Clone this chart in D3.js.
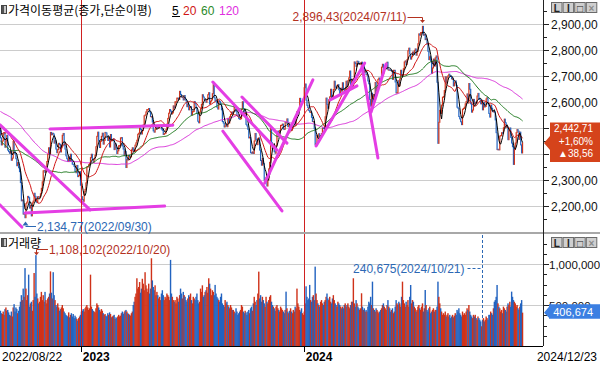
<!DOCTYPE html>
<html><head><meta charset="utf-8">
<script src="https://cdn.jsdelivr.net/npm/d3@7"></script>
<style>
html,body{margin:0;padding:0;background:#fff;}
svg{display:block;}
text{font-family:"Liberation Sans",Arial,sans-serif;}
.kr{font-family:"Noto Sans CJK KR","Noto Sans",sans-serif;}
</style></head><body>
<svg id="c" width="600" height="366"></svg>
<script>
// ---------- DATA ----------
// 119 closes before the first visible day (needed for the 120-day average)
const priorCloses = [
2699,
2703,2747,2713,2651,2622,2680,2661,2645,2621,2657,2694,2707,2686,2729,2736,2730,2729,2690,2729,2741,2757,
2739,2757,2759,2735,2700,2693,2666,2716,2696,2693,2718,2728,2704,2718,2704,2657,2668,2639,2639,2667,2695,
2687,2680,2678,2645,2610,2596,2592,2550,2604,2596,2620,2625,2592,2639,2647,2605,2648,2612,2638,2670,2685,
2670,2626,2670,2626,2625,2595,2504,2492,2447,2440,2391,2408,2342,2314,2366,2401,2422,2377,2350,2332,
2305,2300,2341,2292,2350,2350,2317,2328,2330,2322,2330,2375,2370,2386,2393,2403,2401,2415,2435,2451,2451,
2452,2439,2461,2473,2490,2493,2503,2480,2523,2527,2533,2516,2508,2492
];
// daily closes 2022/08/22 .. 2024/12/23
const closes = [
2462,2435,2450,2477,2481,2426,2450,2472,
2415,2409,2403,2410,2376,2384,2449,2411,2401,2382,2355,2367,2347,2332,2290,2220,2223,2169,2170,2155,
2209,2215,2237,2232,2192,2202,2162,2212,2219,2249,2237,2218,2213,2236,2235,2235,2247,2268,2293,
2335,2337,2329,2348,2371,2399,2424,2402,2483,2474,2480,2477,2442,2451,2419,2405,2417,2441,2437,2408,2433,2472,
2479,2434,2419,2393,2382,2371,2389,2373,2399,2373,2361,2360,2352,2333,2328,2356,2313,2317,2332,2280,2236,
2225,2218,2255,2264,2289,2350,2351,2359,2365,2386,2399,2379,2368,2380,2395,2428,2468,2484,2450,2425,
2449,2468,2480,2438,2452,2483,2481,2469,2452,2465,2427,2475,2451,2455,2458,2417,2439,2423,2402,2412,
2432,2432,2462,2463,2431,2419,2394,2410,2348,2379,2377,2395,2388,2389,2416,2424,2414,2409,2434,2443,2453,2476,
2480,2500,2495,2477,2490,2512,2547,2550,2562,2571,2571,2575,2562,2544,2544,2523,2489,2484,2495,2501,
2507,2500,2501,2509,2510,2496,2491,2475,2479,2480,2494,2515,2537,2557,2571,2565,2554,2558,2585,2577,
2601,2601,2615,2615,2610,2641,2629,2619,2619,2608,2625,2609,2604,2582,2592,2570,2582,2582,2550,2564,2564,
2602,2593,2579,2556,2526,2520,2561,2574,2591,2628,2619,2608,2608,2599,2609,2628,2636,2592,2603,2608,2632,
2667,2616,2605,2602,2580,2573,2605,2601,2591,2570,2525,2519,2504,2508,2516,2505,2537,2519,2543,2552,2561,2556,
2563,2584,2582,2563,2548,2547,2536,2534,2536,2572,2601,2574,2559,2560,2514,2508,2495,2462,2465,
2405,2403,2408,2402,2450,2479,2456,2436,2460,2462,2415,2375,2357,2383,2363,2299,2302,2310,2277,
2301,2343,2368,2502,2443,2421,2427,2409,2403,2433,2486,2488,2469,2491,2510,2511,2515,2496,2495,2521,2519,2535,
2505,2514,2495,2495,2492,2517,2525,2535,2510,2544,2563,2566,2568,2614,2600,2599,2602,2613,2655,
2669,2607,2587,2578,2567,2561,2562,2541,2525,2525,2497,2435,2440,2472,2464,2478,2469,2470,2478,2500,2498,2497,
2543,2615,2591,2576,2609,2620,2649,2620,2613,2648,2680,2657,2653,2664,2667,2647,2625,2653,2642,
2674,2649,2641,2647,2680,2660,2682,2693,2719,2666,2685,2656,2690,2754,2748,2737,2757,2755,2745,2746,
2747,2753,2706,2742,2714,2717,2705,2706,2681,2670,2609,2584,2634,2591,2629,2623,2675,2628,2656,2687,2692,
2683,2676,2734,2745,2712,2727,2727,2730,2753,2724,2724,2723,2721,2721,2687,2722,2722,2677,2635,2636,
2682,2662,2689,2722,2701,2705,2728,2754,2758,2744,2763,2797,2807,2784,2765,2774,2792,2784,2797,
2804,2780,2794,2824,2862,2857,2867,2867,2891,2857,2860,2840,2843,2824,2795,2763,2774,2758,2710,2731,2765,2738,2770,
2777,2676,2441,2522,2568,2556,2588,2618,2621,2644,2697,2674,2696,2701,2707,2701,2698,2689,2689,2662,2674,
2681,2664,2580,2576,2544,2535,2524,2513,2572,2575,2580,2593,2602,2631,2596,2671,2649,2593,
2561,2569,2610,2594,2599,2596,2623,2633,2611,2609,2593,2604,2570,2599,2581,2583,2612,2617,2593,2556,
2542,2588,2576,2563,2564,2561,2531,2482,2417,2418,2416,2469,2471,2482,2480,2501,2534,2520,2503,2504,2455,
2490,2500,2464,2442,2428,2360,2417,2442,2482,2494,2488,2456,2484,2435,2404,2442.71
];
// daily volume, thousand shares (axis unit = 1,000 shares)
const volumes = [
430,400,390,420,380,450,470,430,
440,410,380,370,420,360,470,510,420,470,450,400,430,480,540,620,560,700,600,950,
700,560,620,870,480,520,540,430,560,890,600,1108.102,640,580,520,540,600,660,560,
620,540,660,560,520,580,600,640,910,650,580,900,620,560,500,480,520,470,430,450,470,500,
460,420,400,380,370,360,410,350,380,400,360,390,340,370,350,330,310,340,360,380,420,
430,450,420,460,480,500,470,440,460,870,480,450,430,420,410,460,520,500,470,440,
420,450,430,400,380,390,370,360,400,380,410,390,350,360,370,380,330,350,340,360,
380,360,370,400,420,390,410,430,440,420,400,390,380,370,400,420,500,540,600,640,826,700,
720,780,650,700,820,760,680,900,740,700,660,760,640,700,1070,800,720,680,740,620,
660,620,580,600,560,640,680,620,560,600,580,640,620,600,560,1050,640,600,560,540,
560,520,600,580,540,620,700,640,580,660,620,600,560,540,580,620,600,640,560,520,600,
580,560,600,640,560,520,540,700,660,740,600,620,660,680,720,650,826,760,700,620,680,
660,620,745,640,600,580,560,540,600,640,520,500,480,560,520,540,500,480,460,500,470,440,
440,420,400,460,420,380,400,420,440,500,480,420,400,430,410,380,420,440,400,
460,480,430,520,600,540,500,560,640,907,580,620,540,600,560,520,480,600,540,
520,560,600,620,540,500,480,460,430,480,500,460,440,420,480,460,440,420,400,440,663,460,
420,400,430,460,420,400,440,420,480,460,700,520,480,440,420,460,400,380,420,
520,728,600,560,580,745,560,540,600,620,560,968,640,560,520,500,480,540,560,520,500,540,
560,600,640,580,560,600,540,520,580,620,560,520,500,480,540,520,500,480,460,
480,460,500,520,480,500,520,480,460,500,540,540,826,520,480,560,520,480,460,440,
460,643,480,440,460,420,440,420,480,540,520,600,500,785,460,440,420,460,440,420,400,
420,440,460,500,520,480,460,440,500,560,480,460,420,440,460,400,420,480,560,520,
500,540,520,480,600,785,560,520,480,540,500,560,480,600,744,520,560,540,480,
460,420,440,480,500,460,440,480,520,420,460,683,500,440,420,460,480,400,420,440,460,420,440,
440,480,785,600,520,460,420,380,400,380,420,360,380,400,360,380,340,360,380,350,370,
400,380,440,420,460,400,380,360,420,380,400,380,420,460,440,500,420,380,
360,340,380,360,380,340,320,360,340,320,300,240.675,320,340,300,320,360,340,320,380,
380,420,400,380,460,540,560,600,744,520,480,460,420,440,400,480,460,440,420,480,520,
500,540,480,663,600,560,540,520,480,500,460,440,480,520,560,406.674
];
const maPeriods = [120, 60, 20, 5];
const maColors  = {5:"#000000", 20:"#d01414", 60:"#1f7a1f", 120:"#d935d9"};
const priceTicks = [2200,2300,2400,2500,2600,2700,2800,2900];
const volumeTicks = [500000, 1000000];
const yearStarts = [{idx:90, label:"2023"}, {idx:335, label:"2024"}];
const dateLabels = [{idx:0, label:"2022/08/22"}, {idx:574, label:"2024/12/23"}];
// user-drawn trend lines: [startIdx, startPrice, endIdx, endPrice]
const trendLines = [
  [0,2512, 99,2185],
  [0,2204, 24,2119],
  [55,2496, 190,2511],
  [27.5,2173, 181,2200],
  [234,2677, 304.5,2415],
  [245,2488, 310,2181],
  [266,2619, 315.5,2442],
  [291,2288, 344,2685],
  [347.5,2431, 401,2750],
  [363,2608, 392.5,2662],
  [398,2738, 415.5,2385],
  [408,2561, 424.5,2746]
];
const priceHigh = {idx:464, value:2896.43, label:"2,896,43(2024/07/11)"};
const priceLow  = {idx:27,  value:2134.77, label:"2,134,77(2022/09/30)"};
const volHigh   = {idx:39,  value:1108102, label:"1,108,102(2022/10/20)"};
const volLow    = {idx:529, value:240675,  label:"240,675(2024/10/21)"};
const lastInfo  = {price:"2,442,71", pct:"+1,60%", chg:"▲38,56", vol:"406,674"};

// ---------- CHART ----------
const svg = d3.select("#c");
const plotR = 543;
const n = closes.length;
const x = d3.scaleBand().domain(d3.range(n)).range([0, 523]).paddingInner(0);
const xl = d3.scaleLinear().domain([0, n]).range([0, 523]);
const bw = x.bandwidth();
const y = d3.scaleLinear().domain([2200, 2900]).range([206, 24]);
const yv = d3.scaleLinear().domain([0, 1000000]).range([346, 264]);
const UP = "#cf3219", DN = "#2263c0";

const all = priorCloses.concat(closes);
const off = priorCloses.length;
const prev = i => all[i + off - 1];
const ma = p => d3.range(n).map(i => d3.mean(all.slice(i + off - p + 1, i + off + 1)));
const lastY = y(closes[n-1]);

const defs = svg.append("defs");
defs.append("clipPath").attr("id","cp").append("rect").attr("x",0).attr("y",0).attr("width",plotR).attr("height",232);
defs.append("clipPath").attr("id","cv").append("rect").attr("x",0).attr("y",234).attr("width",plotR).attr("height",112);

// grids
svg.append("g").selectAll("line").data(priceTicks).join("line")
  .attr("x1",0).attr("x2",plotR).attr("y1",d=>Math.round(y(d))+0.5).attr("y2",d=>Math.round(y(d))+0.5)
  .attr("stroke","#cccccc");
svg.append("g").selectAll("line").data(volumeTicks).join("line")
  .attr("x1",0).attr("x2",plotR).attr("y1",d=>Math.round(yv(d))+0.5).attr("y2",d=>Math.round(yv(d))+0.5)
  .attr("stroke","#cccccc");

// candles
const gp = svg.append("g").attr("clip-path","url(#cp)");
gp.append("g").selectAll("rect").data(closes).join("rect")
  .attr("x",(d,i)=>x(i)-0.15).attr("width",bw+0.3)
  .attr("y",(d,i)=>Math.min(y(d),y(prev(i)))-0.5)
  .attr("height",(d,i)=>Math.max(1.5,Math.abs(y(d)-y(prev(i)))+1))
  .attr("fill",(d,i)=> d>=prev(i)?UP:DN);

// moving averages
maPeriods.forEach(p=>{
  const vals = ma(p);
  gp.append("path").datum(vals)
    .attr("d", d3.line().x((d,i)=>x(i)+bw/2).y(d=>y(d)))
    .attr("fill","none").attr("stroke",maColors[p]).attr("stroke-width",1);
});

// trend lines
gp.append("g").selectAll("line").data(trendLines).join("line")
  .attr("x1",d=>xl(d[0])).attr("y1",d=>y(d[1])).attr("x2",d=>xl(d[2])).attr("y2",d=>y(d[3]))
  .attr("stroke","#e43ee4").attr("stroke-width",3).attr("stroke-linecap","round");

// volume bars
const gv = svg.append("g").attr("clip-path","url(#cv)");
gv.selectAll("rect").data(volumes).join("rect")
  .attr("x",(d,i)=>x(i)-0.25).attr("width",bw+0.5)
  .attr("y",d=>yv(d*1000)).attr("height",d=>346-yv(d*1000))
  .attr("fill",(d,i)=> closes[i]>=prev(i)?UP:DN);

// year separators (on top of marks)
svg.append("g").selectAll("line").data(yearStarts).join("line")
  .attr("x1",d=>Math.floor(x(d.idx))+0.5).attr("x2",d=>Math.floor(x(d.idx))+0.5)
  .attr("y1",0).attr("y2",346).attr("stroke","#d02020").attr("stroke-width",1);

// panel separator & axes
svg.append("rect").attr("x",0).attr("y",232).attr("width",600).attr("height",2).attr("fill","#a8a8a8");
svg.append("line").attr("x1",0).attr("x2",plotR).attr("y1",346.5).attr("y2",346.5).attr("stroke","#000");
svg.append("line").attr("x1",plotR+0.5).attr("x2",plotR+0.5).attr("y1",0).attr("y2",346).attr("stroke","#222");

const fmtP = d => d3.format(",.2f")(d).replace(".",",");
// price ticks
const minorP = d3.range(2150, 2951, 50).filter(v=>v%100!==0);
svg.append("g").selectAll("line").data(minorP).join("line")
  .attr("x1",plotR).attr("x2",plotR+4).attr("y1",d=>Math.round(y(d))+0.5).attr("y2",d=>Math.round(y(d))+0.5).attr("stroke","#222");
svg.append("g").selectAll("line").data(priceTicks).join("line")
  .attr("x1",plotR).attr("x2",plotR+6).attr("y1",d=>Math.round(y(d))+0.5).attr("y2",d=>Math.round(y(d))+0.5).attr("stroke","#222");
// labels hidden behind the last-price box are not drawn
svg.append("g").selectAll("text").data(priceTicks.filter(t=>Math.abs(y(t)-lastY)>22)).join("text")
  .attr("x",551).attr("y",d=>y(d)+4.5).attr("font-size",12).attr("fill","#111").text(fmtP);
// volume ticks
const minorV = d3.range(125000, 1300000, 125000).filter(v=>v%500000!==0 && yv(v)>236);
svg.append("g").selectAll("line").data(minorV).join("line")
  .attr("x1",plotR).attr("x2",plotR+4).attr("y1",d=>Math.round(yv(d))+0.5).attr("y2",d=>Math.round(yv(d))+0.5).attr("stroke","#222");
svg.append("g").selectAll("line").data(volumeTicks).join("line")
  .attr("x1",plotR).attr("x2",plotR+6).attr("y1",d=>Math.round(yv(d))+0.5).attr("y2",d=>Math.round(yv(d))+0.5).attr("stroke","#222");
svg.append("g").selectAll("text").data(volumeTicks).join("text")
  .attr("x",549).attr("y",d=>yv(d)+4.5).attr("font-size",11.5).attr("fill","#111").text(d3.format(","));

// x labels
svg.append("g").selectAll("line").data(yearStarts).join("line")
  .attr("x1",d=>Math.floor(x(d.idx))+0.5).attr("x2",d=>Math.floor(x(d.idx))+0.5)
  .attr("y1",346).attr("y2",352).attr("stroke","#000");
svg.append("g").selectAll("text").data(yearStarts).join("text")
  .attr("x",d=>x(d.idx)+1).attr("y",361).attr("font-size",12).attr("font-weight","bold").attr("fill","#000").text(d=>d.label);
svg.append("text").attr("x",x(dateLabels[0].idx)+2).attr("y",361).attr("font-size",12).attr("fill","#000").text(dateLabels[0].label);
svg.append("text").attr("x",597).attr("y",361).attr("font-size",12).attr("text-anchor","end").attr("fill","#000").text(dateLabels[1].label);

// titles
function icon(yy){
  svg.append("rect").attr("x",1.5).attr("y",yy+0.5).attr("width",5).attr("height",8).attr("fill","#c8c8c8").attr("stroke","#444");
  svg.append("rect").attr("x",2).attr("y",yy+1).attr("width",2).attr("height",7).attr("fill","#555");
}
icon(5);
svg.append("text").attr("class","kr").attr("x",8).attr("y",15).attr("font-size",12).attr("fill","#000").text("가격이동평균(종가,단순이평)");
[{t:"5",x:172,c:maColors[5]},{t:"20",x:183,c:maColors[20]},{t:"60",x:201,c:"#2a8a2a"},{t:"120",x:219,c:"#e02ee0"}].forEach(o=>{
  svg.append("text").attr("x",o.x).attr("y",15).attr("font-size",12).attr("fill",o.c).text(o.t);
});
svg.append("line").attr("x1",172).attr("x2",180).attr("y1",16.5).attr("y2",16.5).attr("stroke","#000");
icon(238);
svg.append("text").attr("class","kr").attr("x",8).attr("y",248).attr("font-size",12).attr("fill","#000").text("거래량");

// window buttons
function buttons(yy){
  const g = svg.append("g");
  ["L","I","□","×"].forEach((t,k)=>{
    const bx = 551 + k*11.6;
    g.append("rect").attr("x",bx+0.5).attr("y",yy+0.5).attr("width",10.5).attr("height",10).attr("fill","#cfcfcf").attr("stroke","#6a6a6a");
    g.append("text").attr("x",bx+5.7).attr("y",yy+9.5).attr("text-anchor","middle").attr("font-size",10).attr("font-weight","bold")
      .attr("fill", k===3?"#8a8a8a":"#222").text(t);
  });
}
buttons(2);
buttons(237);

// annotations
const RED = "#b4321f", BLUE = "#2c68b4";
{ // price high
  const hx = x(priceHigh.idx)+bw/2, ty = 17;
  svg.append("text").attr("x",hx-16).attr("y",ty+4).attr("text-anchor","end").attr("font-size",12).attr("fill",RED).text(priceHigh.label);
  svg.append("path").attr("d",`M${hx-15},${ty+0.5}H${Math.round(hx)+0.5}V${y(priceHigh.value)-3}`).attr("fill","none").attr("stroke",RED);
  svg.append("path").attr("d",`M${Math.round(hx)-2},${y(priceHigh.value)-5}h5l-2.5,3z`).attr("fill",RED);
}
{ // price low
  const lx = x(priceLow.idx)+bw/2, ty = 226.5;
  svg.append("text").attr("x",lx+12).attr("y",ty+4).attr("font-size",12).attr("fill",BLUE).text(priceLow.label);
  svg.append("path").attr("d",`M${lx+11},${ty}H${Math.round(lx)+0.5}`).attr("fill","none").attr("stroke",BLUE);
  svg.append("path").attr("d",`M${Math.round(lx)-2.5},${ty-1}h6l-3,-4z`).attr("fill",BLUE);
}
{ // volume high
  const vx = x(volHigh.idx)+bw/2, ty = 249.5;
  svg.append("text").attr("x",vx+13).attr("y",ty+4.5).attr("font-size",12).attr("fill",RED).text(volHigh.label);
  svg.append("path").attr("d",`M${vx+12},${ty}H${Math.round(vx)+0.5}V${yv(volHigh.value)-1}`).attr("fill","none").attr("stroke",RED);
  svg.append("path").attr("d",`M${Math.round(vx)-2},${yv(volHigh.value)-3}h5l-2.5,3z`).attr("fill",RED);
}
{ // volume low
  const vx = Math.round(x(volLow.idx)+bw/2)+0.5, ty = 268.5;
  svg.append("text").attr("x",vx-18).attr("y",ty+4.5).attr("text-anchor","end").attr("font-size",12).attr("fill",BLUE).text(volLow.label);
  svg.append("path").attr("d",`M${vx-15},${ty}H${vx}`).attr("stroke",BLUE).attr("stroke-dasharray","3,2");
  svg.append("path").attr("d",`M${vx},235V${yv(volLow.value)-6}`).attr("stroke",BLUE).attr("stroke-dasharray","3,2");
}

// last-value boxes
{
  const ty = lastY;
  svg.append("path").attr("d",`M544,${ty}L550,${ty-7}V${ty-20.5}H600V${ty+19}H550V${ty+7}Z`).attr("fill","#d5431b");
  [[lastInfo.price,-10.5],[lastInfo.pct,2],[lastInfo.chg,14.5]].forEach(([t,dy])=>{
    svg.append("text").attr("x",593).attr("y",ty+dy).attr("text-anchor","end").attr("font-size",10).attr("fill","#fff").text(t);
  });
  const vy = yv(volumes[n-1]*1000);
  svg.append("path").attr("d",`M544,${vy}L549,${vy-6}V${vy-8.5}H600V${vy+6}H549V${vy+5}Z`).attr("fill","#3b7fe2");
  svg.append("text").attr("x",593).attr("y",vy+3).attr("text-anchor","end").attr("font-size",11).attr("fill","#fff").text(lastInfo.vol);
}
</script>
</body></html>
